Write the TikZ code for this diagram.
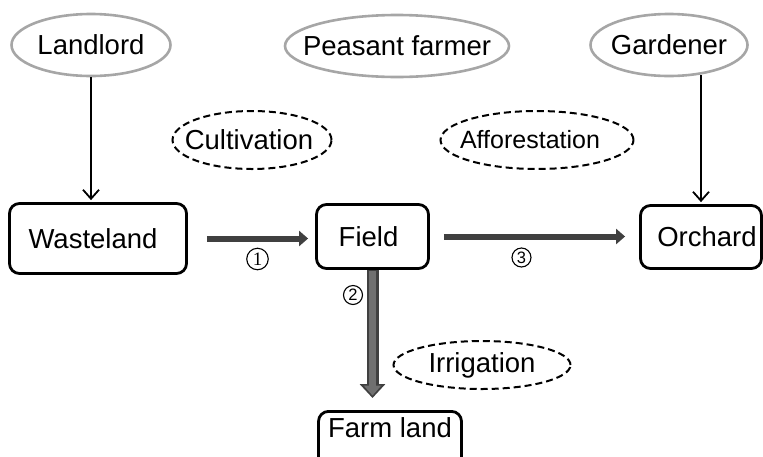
\documentclass[tikz,border=0pt]{standalone}
\usepackage{fontspec}
\setmainfont{Liberation Sans}
\newfontfamily\serifdigits{Liberation Serif}
\usetikzlibrary{arrows.meta,shapes.geometric}

\definecolor{roleGray}{HTML}{A6A6A6}
\definecolor{arrowDark}{HTML}{404040}
\definecolor{arrowMid}{HTML}{707070}

\begin{document}
\begin{tikzpicture}[x=1pt,y=-1pt,
  every node/.style={font=\fontsize{27.5}{33}\selectfont, inner sep=0pt},
  role/.style={ellipse, draw=roleGray, line width=2.6pt, minimum height=62pt},
  activity/.style={ellipse, draw=black, line width=2pt, dash pattern=on 7pt off 4pt, minimum height=58pt},
  landbox/.style={rectangle, draw=black, line width=2.8pt, rounded corners=10pt},
  bigarrow/.style={draw=arrowDark, line width=6pt, -{Triangle[length=9pt,width=15pt]}},
  thinarrow/.style={draw=black, line width=1.8pt, -{Straight Barb[length=9pt,width=16pt]}},
  digit/.style={circle, draw=black, line width=1.1pt, minimum size=19pt, font=\fontsize{16.5}{16.5}\selectfont}
]
\useasboundingbox (0,0) rectangle (763,456);

% actors
\node[role, minimum width=159pt, label={center:Landlord}] (landlord) at (91,45) {};
\node[role, minimum width=224pt, label={center:Peasant farmer}] (peasant) at (397,46) {};
\node[role, minimum width=157pt, label={center:Gardener}] (gardener) at (669,45) {};

% activities
\node[activity, minimum width=159pt, label={[xshift=-3pt]center:Cultivation}] (cultivation) at (252,140) {};
\node[activity, minimum width=193pt, label={[xshift=-7pt]center:{\fontsize{25}{30}\selectfont Afforestation}}] (afforestation) at (537,140) {};
\node[activity, minimum width=177pt, minimum height=48pt, label={center:Irrigation}] (irrigation) at (482,365) {};

% kinds of land
\node[landbox, minimum width=177pt, minimum height=70pt] (wasteland) at (98,238.5) {\hspace*{-10pt}Wasteland};
\node[landbox, minimum width=112pt, minimum height=64pt] (field) at (372.5,236.5) {Field\hspace*{8pt}};
\node[landbox, minimum width=121pt, minimum height=63pt] (orchard) at (701,237) {Orchard\hspace*{-12pt}};
\node[landbox, minimum width=143pt, text height=25.6pt, text depth=30pt, anchor=base] (farmland) at (390,437) {Farm land};

% who works which land
\draw[thinarrow, shorten >=2pt] (landlord.south) -- (landlord.south |- wasteland.north);
\draw[thinarrow, shorten >=2pt, shorten <=-2pt] (gardener.south -| orchard.north) -- (orchard.north);

% conversions
\draw[bigarrow, shorten <=19pt, shorten >=7pt] (wasteland.east) -- (wasteland.east -| field.west);
\draw[bigarrow, shorten <=14pt, shorten >=14pt] (field.east) -- (field.east -| orchard.west);

% double-toned downward arrow
\draw[draw=arrowDark, line width=12pt, -{Triangle[length=14pt,width=25pt]}, shorten >=12pt]
  (field.south) -- (field.south |- farmland.north);
\draw[draw=arrowMid, line width=7pt, -{Triangle[length=10pt,width=17pt]}, shorten >=14.5pt, shorten <=1.5pt]
  (field.south) -- (field.south |- farmland.north);

% step numbers
\node[digit, minimum size=21.5pt, font=\serifdigits\fontsize{19}{19}\selectfont] (n1) at (257.5,259) {1};
\node[digit] (n2) at (353,295) {2};
\node[digit] (n3) at (521.5,257.5) {3};
\end{tikzpicture}
\end{document}
